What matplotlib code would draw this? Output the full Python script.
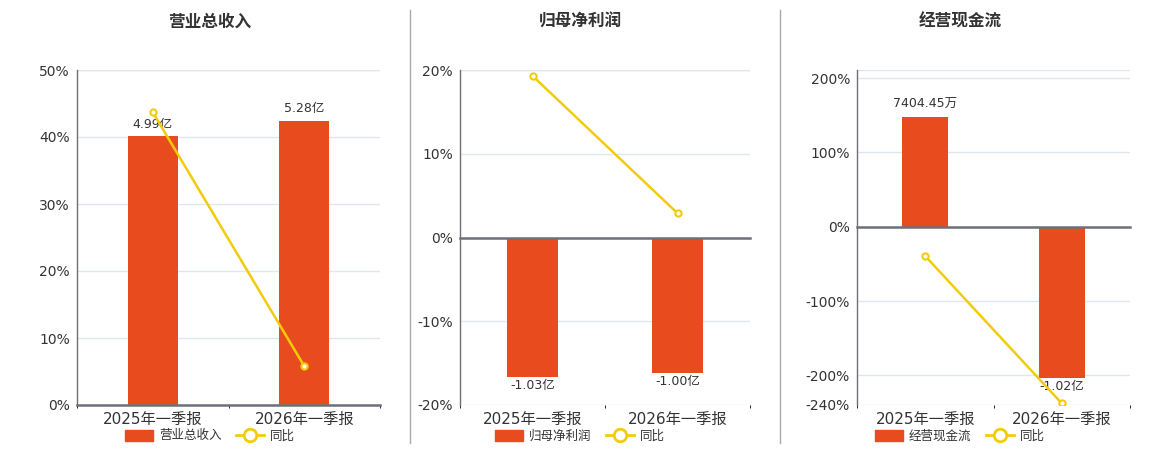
import matplotlib.pyplot as plt
from matplotlib.lines import Line2D
from matplotlib.patches import Patch
from matplotlib.ticker import FixedLocator

plt.rcParams['font.family'] = ['DejaVu Sans', 'Noto Sans CJK SC']

categories = ['2025年一季报', '2026年一季报']

titles = ['营业总收入', '归母净利润', '经营现金流']

revenue = [4.99, 5.28]          # 亿
revenue_yoy = [43.7, 5.8]       # %
revenue_labels = ['4.99亿', '5.28亿']

profit = [-1.03, -1.00]
profit_yoy = [19.3, 2.9]
profit_labels = ['-1.03亿', '-1.00亿']

cashflow = [0.740445, -1.02]
cashflow_yoy = [-39.5, -237.8]
cashflow_labels = ['7404.45万', '-1.02亿']

bar_color = '#E84C1E'
line_color = '#F2CC0C'
grid_color = '#E0E6F1'
axis_color = '#6E7079'
text_color = '#333333'

W, H = 1160, 450
fig = plt.figure(figsize=(W / 100, H / 100), dpi=100)

panels = [
    dict(values=revenue, yoy=revenue_yoy, labels=revenue_labels,
         rect=[77, 70, 380, 405], ylim=(0, 50), ticks=[0, 10, 20, 30, 40, 50],
         bar_lim=(0, 6.22), width=0.33, center=210),
    dict(values=profit, yoy=profit_yoy, labels=profit_labels,
         rect=[460, 70, 750, 405], ylim=(-20, 20), ticks=[-20, -10, 0, 10, 20],
         bar_lim=(-1.233, 1.233), width=0.345, center=580),
    dict(values=cashflow, yoy=cashflow_yoy, labels=cashflow_labels,
         rect=[857, 70, 1130, 405], ylim=(-240, 211), ticks=[-240, -200, -100, 0, 100, 200],
         bar_lim=(-1.2, 1.055), width=0.34, center=960),
]

x = list(range(len(categories)))

for i, p in enumerate(panels):
    l, t, r, b = p['rect']
    pos = [l / W, 1 - b / H, (r - l) / W, (b - t) / H]

    # bottom layer: percent axis with grid
    ax = fig.add_axes(pos)
    ax.set_xlim(-0.5, 1.5)
    ax.set_ylim(*p['ylim'])
    ax.set_yticks(p['ticks'])
    ax.set_yticklabels([f'{v}%' for v in p['ticks']])
    ax.tick_params(axis='y', length=0, pad=5, labelsize=10, labelcolor=text_color)
    ax.set_xticks([])
    ax.yaxis.grid(True, color=grid_color, lw=1)
    ax.axhline(p['ylim'][1], color=grid_color, lw=1)
    ax.set_axisbelow(True)
    for s in ['top', 'right', 'bottom']:
        ax.spines[s].set_visible(False)
    ax.spines['left'].set_color(axis_color)
    ax.spines['left'].set_linewidth(1)

    # middle layer: bars
    axb = ax.twinx()
    axb.set_ylim(*p['bar_lim'])
    axb.bar(x, p['values'], width=p['width'], color=bar_color)
    axb.set_xlim(-0.5, 1.5)
    axb.axis('off')
    for xi, v, lab in zip(x, p['values'], p['labels']):
        if v >= 0:
            axb.annotate(lab, (xi, v), xytext=(0, 4), textcoords='offset points',
                         ha='center', va='bottom', fontsize=9, color=text_color)
        else:
            axb.annotate(lab, (xi, v), xytext=(0, -1), textcoords='offset points',
                         ha='center', va='top', fontsize=9, color=text_color)

    # top layer: yoy line and zero axis
    axl = ax.twinx()
    axl.set_ylim(*p['ylim'])
    axl.set_xlim(-0.5, 1.5)
    axl.plot(x, p['yoy'], color=line_color, lw=1.8, marker='o', markersize=4.5,
             markerfacecolor='white', markeredgecolor=line_color, markeredgewidth=1.5)
    for s in ['top', 'right', 'left']:
        axl.spines[s].set_visible(False)
    axl.spines['bottom'].set_position(('data', 0))
    axl.spines['bottom'].set_color(axis_color)
    axl.spines['bottom'].set_linewidth(1.8)
    axl.set_yticks([])
    axl.tick_params(right=False, labelright=False)
    axl.set_xticks([])
    axl.xaxis.set_minor_locator(FixedLocator([-0.5, 0.5, 1.5]))
    axl.tick_params(axis='x', which='minor', length=5, width=1, color=axis_color,
                    direction='out')
    for xi, c in zip(x, categories):
        axl.text(xi, -0.02, c, transform=axl.get_xaxis_transform(), ha='center',
                 va='top', fontsize=11, color=text_color)

    fig.text(p['center'] / W, 1 - 22 / H, titles[i], ha='center', va='center',
             fontsize=12, fontweight='bold', color=text_color)

    handles = [Patch(facecolor=bar_color, edgecolor=bar_color),
               Line2D([], [], color=line_color, lw=2, marker='o', markersize=9,
                      markerfacecolor='white', markeredgecolor=line_color,
                      markeredgewidth=2)]
    fig.legend(handles, [titles[i], '同比'], loc='center',
               bbox_to_anchor=(p['center'] / W, 1 - 436 / H), ncol=2, frameon=False,
               fontsize=9, handlelength=2.2, handleheight=1.0, columnspacing=1.2,
               handletextpad=0.5, labelcolor=text_color)

# separators
for xs in [410, 780]:
    fig.add_artist(Line2D([xs / W, xs / W], [1 - 443 / H, 1 - 10 / H],
                          color='#AAAAAA', lw=1))

fig.savefig('out.png', dpi=100)
